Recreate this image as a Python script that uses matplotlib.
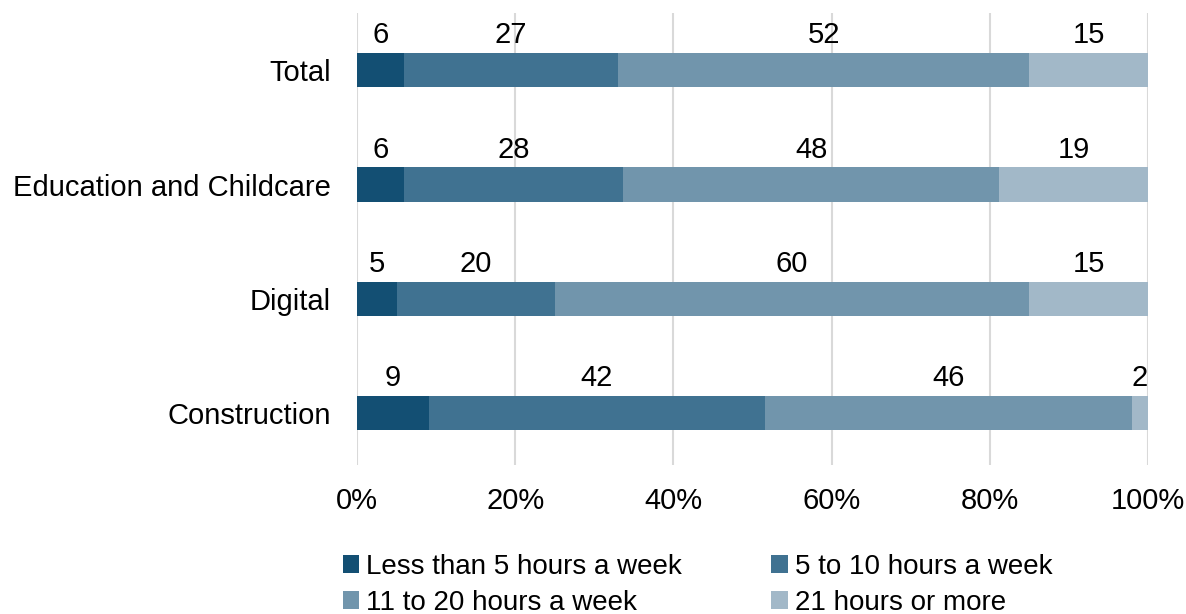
import numpy as np
import matplotlib.pyplot as plt

plt.rcParams['font.family'] = ['Liberation Sans', 'DejaVu Sans']

sectors = ["Total", "Education and Childcare", "Digital", "Construction"]
bands = ["Less than 5 hours a week", "5 to 10 hours a week",
         "11 to 20 hours a week", "21 hours or more"]
less_than_5 = [6, 6, 5, 9]
five_to_10 = [27, 28, 20, 42]
eleven_to_20 = [52, 48, 60, 46]
over_21 = [15, 19, 15, 2]

colours = ["#134f73", "#407291", "#7195ac", "#a2b8c8"]

values = np.array([less_than_5, five_to_10, eleven_to_20, over_21], dtype=float)
# rounded values don't always sum to 100, so scale each row to 100%
shares = values / values.sum(axis=0) * 100

fig = plt.figure(figsize=(11.86, 6.14), dpi=100)
ax = fig.add_axes([0.301, 0.243, 0.667, 0.736])

y = np.arange(len(sectors))
left = np.zeros(len(sectors))
bars = []
for i, band in enumerate(bands):
    b = ax.barh(y, shares[i], left=left, height=0.3, color=colours[i],
                label=band, zorder=3)
    bars.append(b)
    for j in range(len(sectors)):
        ax.text(left[j] + shares[i][j] / 2, y[j] - 0.236, f"{values[i][j]:.0f}",
                ha="center", va="baseline", fontsize=21, color="black", zorder=4)
    left += shares[i]

ax.set_xlim(0, 100)
ax.set_ylim(3.45, -0.5)
ax.set_yticks(y)
ax.set_yticklabels(sectors, fontsize=21)
ax.set_xticks(np.arange(0, 101, 20))
ax.set_xticklabels([f"{v}%" for v in range(0, 101, 20)], fontsize=21)
ax.tick_params(axis="both", length=0)
ax.tick_params(axis="x", pad=16)
ax.tick_params(axis="y", pad=19)
ax.grid(axis="x", color="#d9d9d9", linewidth=1.5, zorder=0)
for side in ax.spines.values():
    side.set_visible(False)

# legend filled row by row: matplotlib fills columns, so reorder
order = [0, 2, 1, 3]
fig.legend([bars[k] for k in order], [bands[k] for k in order],
           loc="upper left", bbox_to_anchor=(0.289, 0.098), ncol=2,
           fontsize=20, frameon=False, handlelength=0.6, handleheight=0.6,
           handletextpad=0.25, columnspacing=3.2, labelspacing=0.35,
           borderaxespad=0, borderpad=0)

fig.savefig("out.png", dpi=100)
